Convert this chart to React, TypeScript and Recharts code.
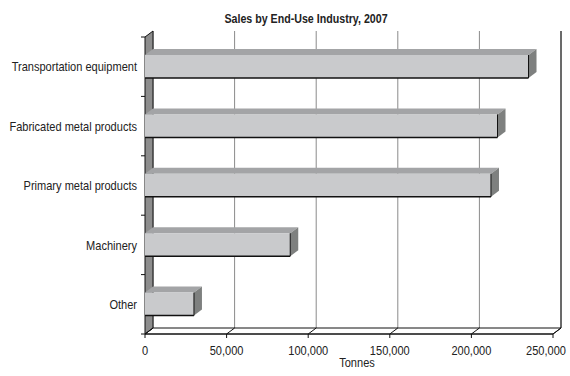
import React from "react";
import { BarChart, Bar, XAxis, YAxis, CartesianGrid, ReferenceArea } from "recharts";

const categories = [
  "Transportation equipment",
  "Fabricated metal products",
  "Primary metal products",
  "Machinery",
  "Other",
];
const tonnes = [235000, 216000, 212000, 89000, 30000];
const xTicks = [0, 50000, 100000, 150000, 200000, 250000];

const data = categories.map((name, i) => ({ name, tonnes: tonnes[i] }));

const W = 570;
const H = 376;
// depth of the fake 3D effect
const DX = 8;
const DY = 6;
const FONT = "'Liberation Sans', Arial, sans-serif";
const INK = "#111";
const TXT = "#222";

// no narrow font installed, so squeeze Liberation Sans to look like Arial Narrow
function NarrowText({ x, y, anchor = "middle", dy = "0", bold = false, children }: any) {
  return (
    <text
      transform={`translate(${x} ${y}) scale(${bold ? 0.82 : 0.85} 1)`}
      textAnchor={anchor}
      dy={dy}
      fontFamily={FONT}
      fontSize={13}
      fontWeight={bold ? "bold" : "normal"}
      fill={TXT}
    >
      {children}
    </text>
  );
}

function Bar3D(props: any) {
  const { x, y, width, height } = props;
  const r = x + width;
  return (
    <g>
      <polygon points={`${x},${y} ${r},${y} ${r + DX},${y - DY} ${x + DX},${y - DY}`} fill="#a3a4a6" />
      <polygon
        points={`${r},${y} ${r + DX},${y - DY} ${r + DX},${y + height - DY} ${r},${y + height}`}
        fill="#7e807f"
      />
      <rect x={x} y={y} width={width} height={height} fill="#c9cacc" />
      <line x1={x} y1={y + height} x2={r} y2={y + height} stroke={INK} strokeWidth={1.5} />
      <line x1={r} y1={y} x2={r} y2={y + height} stroke={INK} />
    </g>
  );
}

function Walls(props: any) {
  const { x, y, width, height } = props;
  const b = y + height;
  const r = x + width;
  const step = height / categories.length;
  return (
    <g>
      <polygon
        points={`${x},${y} ${x + DX},${y - DY} ${x + DX},${b - DY} ${x},${b}`}
        fill="#8d8d8d"
        stroke={INK}
      />
      <polygon points={`${x},${b} ${x + DX},${b - DY} ${r + DX},${b - DY} ${r},${b}`} fill="none" stroke={INK} />
      <line x1={r + DX} y1={y - DY} x2={r + DX} y2={b - DY} stroke={INK} />
      {Array.from({ length: categories.length + 1 }, (_, i) => (
        <line key={i} x1={x - 4} x2={x} y1={y + i * step} y2={y + i * step} stroke={INK} />
      ))}
    </g>
  );
}

const gridLine = (p: any) => {
  const { x1, y1, y2 } = p;
  return (
    <g key={`g-${x1}`}>
      <line x1={x1 + DX} y1={y1 - DY} x2={x1 + DX} y2={y2 - DY} stroke="#8a8a8a" />
      <line x1={x1} y1={y2} x2={x1 + DX} y2={y2 - DY} stroke={INK} />
    </g>
  );
};

const fmt = (v: number) => v.toLocaleString("en-US");

const XTick = (p: any) => (
  <NarrowText x={p.x} y={p.y} dy="0.71em">
    {fmt(p.payload.value)}
  </NarrowText>
);

const YTick = (p: any) => (
  <NarrowText x={p.x} y={p.y} anchor="end" dy="0.36em">
    {p.payload.value}
  </NarrowText>
);

const XLabel = (p: any) => {
  const vb = p.viewBox;
  return (
    <NarrowText x={vb.x + vb.width / 2 + DX} y={vb.y + vb.height - 1}>
      Tonnes
    </NarrowText>
  );
};

export default function App() {
  return (
    <div style={{ position: "absolute", left: 0, top: 0, width: W, height: H, background: "#fff" }}>
      <BarChart
        width={W}
        height={H}
        data={data}
        layout="vertical"
        margin={{ top: 37, right: 17, bottom: 8, left: 0 }}
        barSize={23}
      >
        <CartesianGrid horizontal={false} vertical={gridLine} />
        <ReferenceArea x1={0} x2={250000} shape={Walls} ifOverflow="visible" />
        <XAxis
          type="number"
          domain={[0, 250000]}
          ticks={xTicks}
          height={34}
          tickSize={4}
          tickMargin={8}
          axisLine={{ stroke: INK }}
          tickLine={{ stroke: INK }}
          tick={XTick}
          label={{ content: XLabel }}
        />
        <YAxis
          type="category"
          dataKey="name"
          width={145}
          tickSize={4}
          tickMargin={4}
          axisLine={false}
          tickLine={false}
          tick={YTick}
        />
        <Bar dataKey="tonnes" shape={Bar3D} isAnimationActive={false} />
      </BarChart>
      <svg width={W} height={36} style={{ position: "absolute", left: 0, top: 0 }}>
        <NarrowText x={306} y={23} bold>
          Sales by End-Use Industry, 2007
        </NarrowText>
      </svg>
    </div>
  );
}
